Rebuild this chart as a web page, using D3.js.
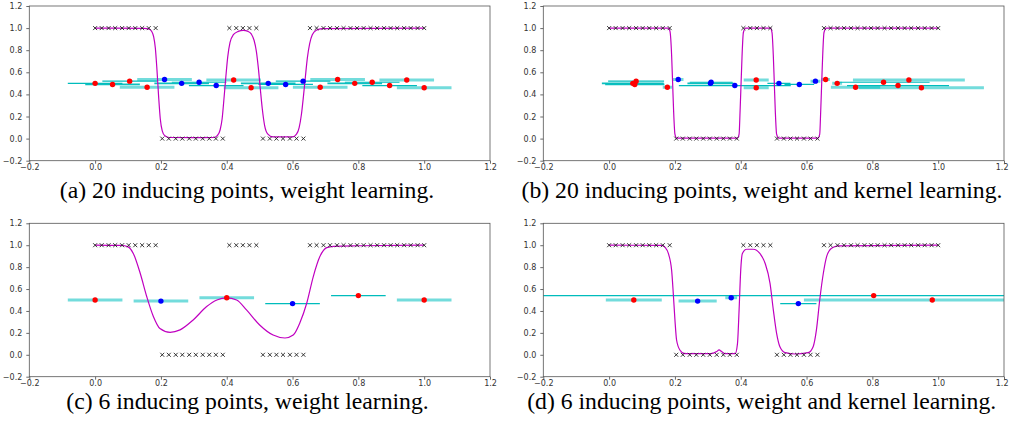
<!DOCTYPE html>
<html>
<head>
<meta charset="utf-8">
<script src="https://cdn.jsdelivr.net/npm/d3@7"></script>
<style>
	body { margin: 0; background: #fff; }
</style>
</head>
<body>
<svg id="fig" width="1009" height="421"></svg>
<script>
// training data, same in all four panels
var trainX = [0.000, 0.020, 0.041, 0.061, 0.082, 0.102, 0.122, 0.143, 0.163, 0.184,
	0.204, 0.224, 0.245, 0.265, 0.286, 0.306, 0.327, 0.347, 0.367, 0.388,
	0.408, 0.429, 0.449, 0.469, 0.490, 0.510, 0.531, 0.551, 0.571, 0.592,
	0.612, 0.633, 0.653, 0.673, 0.694, 0.714, 0.735, 0.755, 0.776, 0.796,
	0.816, 0.837, 0.857, 0.878, 0.898, 0.918, 0.939, 0.959, 0.980, 1.000];
var trainY = [1, 1, 1, 1, 1, 1, 1, 1, 1, 1,
	0, 0, 0, 0, 0, 0, 0, 0, 0, 0,
	1, 1, 1, 1, 1,
	0, 0, 0, 0, 0, 0, 0,
	1, 1, 1, 1, 1, 1, 1, 1, 1, 1, 1, 1, 1, 1, 1, 1, 1, 1];

var tickValues = [-0.2, 0.0, 0.2, 0.4, 0.6, 0.8, 1.0, 1.2];

// (a) 20 inducing points, weight learning
var meanAX = [0, 0.15, 0.165, 0.172, 0.178, 0.183, 0.188, 0.193, 0.198, 0.204, 0.212, 0.225, 0.30, 0.36,
	0.372, 0.38, 0.386, 0.391, 0.397, 0.403, 0.41, 0.42, 0.435, 0.45, 0.465, 0.475, 0.483, 0.49,
	0.496, 0.502, 0.508, 0.515, 0.525, 0.54, 0.60, 0.612, 0.62, 0.627, 0.633, 0.639, 0.645, 0.652,
	0.66, 0.672, 0.69, 1.0];
var meanAY = [1.0, 0.998, 0.99, 0.97, 0.92, 0.82, 0.62, 0.38, 0.18, 0.07, 0.025, 0.01, 0.008, 0.01,
	0.03, 0.08, 0.18, 0.34, 0.55, 0.74, 0.87, 0.94, 0.97, 0.98, 0.97, 0.945, 0.89, 0.79,
	0.64, 0.45, 0.27, 0.12, 0.04, 0.015, 0.015, 0.04, 0.1, 0.22, 0.38, 0.56, 0.73, 0.86,
	0.94, 0.98, 0.995, 1.0];
var indAX = [0.000, 0.053, 0.105, 0.158, 0.211, 0.263, 0.316, 0.368, 0.421, 0.474,
	0.526, 0.579, 0.632, 0.684, 0.737, 0.789, 0.842, 0.895, 0.947, 1.000];
var indAY = [0.50, 0.49, 0.52, 0.465, 0.535, 0.50, 0.51, 0.48, 0.53, 0.46,
	0.50, 0.49, 0.52, 0.465, 0.535, 0.50, 0.51, 0.48, 0.53, 0.46];
var indASign = ["r", "r", "r", "r", "b", "b", "b", "b", "r", "r",
	"b", "b", "b", "r", "r", "r", "r", "r", "r", "r"];
var indAHalf = [0.083, 0.083, 0.083, 0.083, 0.083, 0.083, 0.083, 0.083, 0.083, 0.083,
	0.083, 0.083, 0.083, 0.083, 0.083, 0.083, 0.083, 0.083, 0.083, 0.083];
var indAKind = ["d", "D", "d", "L", "L", "D", "d", "d", "L", "L",
	"D", "d", "d", "L", "L", "D", "d", "d", "L", "L"];

// (b) 20 inducing points, weight and kernel learning
var meanBX = [0, 0.18, 0.185, 0.19, 0.193, 0.196, 0.2, 0.205, 0.39, 0.395, 0.398, 0.401, 0.404, 0.408,
	0.415, 0.49, 0.495, 0.499, 0.502, 0.505, 0.509, 0.515, 0.635, 0.64, 0.643, 0.646, 0.649, 0.653,
	0.66, 1.0];
var meanBY = [1.0, 1.0, 0.97, 0.75, 0.5, 0.25, 0.04, 0.005, 0.005, 0.04, 0.25, 0.5, 0.75, 0.96,
	1.0, 1.0, 0.96, 0.75, 0.5, 0.25, 0.04, 0.005, 0.005, 0.04, 0.25, 0.5, 0.75, 0.96,
	1.0, 1.0];
var indBX = [0.072, 0.078, 0.082, 0.177, 0.210, 0.308, 0.310, 0.382, 0.447, 0.447,
	0.516, 0.578, 0.627, 0.749, 0.658, 0.693, 0.834, 0.878, 0.911, 0.949];
var indBY = [0.50, 0.49, 0.52, 0.465, 0.535, 0.50, 0.51, 0.48, 0.53, 0.46,
	0.50, 0.49, 0.52, 0.465, 0.535, 0.50, 0.51, 0.48, 0.53, 0.46];
var indBSign = ["r", "r", "r", "r", "b", "b", "b", "b", "r", "r",
	"b", "b", "b", "r", "r", "r", "r", "r", "r", "r"];
var indBHalf = [0.094, 0.09, 0.085, 0.014, 0.016, 0.07, 0.065, 0.17, 0.038, 0.038,
	0.035, 0.045, 0.015, 0.075, 0.013, 0.015, 0.14, 0.155, 0.17, 0.19];
var indBKind = ["D", "D", "d", "L", "L", "D", "d", "d", "L", "L",
	"d", "d", "L", "L", "L", "L", "d", "d", "L", "L"];

// (c) 6 inducing points, weight learning
var meanCX = [0, 0.08, 0.1, 0.116, 0.137, 0.157, 0.177, 0.197, 0.228, 0.258, 0.298, 0.339, 0.37, 0.4,
	0.43, 0.46, 0.50, 0.541, 0.577, 0.602, 0.622, 0.643, 0.663, 0.683, 0.704, 0.724, 0.8, 1.0];
var meanCY = [1.0, 0.998, 0.985, 0.925, 0.744, 0.53, 0.35, 0.24, 0.205, 0.227, 0.318, 0.44, 0.5, 0.52,
	0.5, 0.41, 0.272, 0.18, 0.153, 0.18, 0.29, 0.47, 0.714, 0.896, 0.978, 0.99, 0.995, 1.0];
var indCX = [0.0, 0.2, 0.4, 0.6, 0.8, 1.0];
var indCY = [0.50, 0.49, 0.52, 0.467, 0.54, 0.50];
var indCSign = ["r", "b", "r", "b", "r", "r"];
var indCHalf = [0.083, 0.083, 0.083, 0.083, 0.083, 0.083];
var indCKind = ["L", "L", "L", "d", "d", "L"];

// (d) 6 inducing points, weight and kernel learning
var meanDX = [0, 0.16, 0.17, 0.18, 0.19, 0.195, 0.2, 0.205, 0.215, 0.23, 0.31, 0.327, 0.334, 0.342,
	0.352, 0.383, 0.39, 0.395, 0.4, 0.405, 0.418, 0.438, 0.458, 0.474, 0.489, 0.499, 0.509, 0.519,
	0.535, 0.565, 0.605, 0.62, 0.63, 0.64, 0.651, 0.661, 0.676, 0.697, 1.0];
var meanDY = [1.0, 0.998, 0.98, 0.925, 0.77, 0.56, 0.32, 0.135, 0.044, 0.01, 0.01, 0.03, 0.044, 0.03,
	0.01, 0.01, 0.1, 0.41, 0.775, 0.925, 0.963, 0.963, 0.925, 0.835, 0.652, 0.41, 0.196, 0.074,
	0.02, 0.007, 0.02, 0.074, 0.227, 0.5, 0.744, 0.896, 0.972, 0.994, 1.0];
var indDX = [0.075, 0.269, 0.371, 0.575, 0.804, 0.982];
var indDY = [0.50, 0.49, 0.52, 0.467, 0.54, 0.50];
var indDSign = ["r", "b", "b", "b", "r", "r"];
var indDHalf = [0.085, 0.058, 0.018, 0.055, 2.0, 0.39];
var indDKind = ["L", "L", "L", "d", "d", "L"];

var dotColors = {r: "#ff0000", b: "#0000ff"};
var barStyles = {
	L: {color: "#00bfbf", width: 3, opacity: 0.55},
	D: {color: "#00bcbc", width: 1.8, opacity: 0.95},
	d: {color: "#00bcbc", width: 1.2, opacity: 1}
};

function zipInducing(xs, ys, signs, halfs, kinds) {
	var out = [];
	for (var i = 0; i < xs.length; i++)
		out.push({x: xs[i], y: ys[i], sign: signs[i], half: halfs[i], kind: kinds[i]});
	return out;
}

function Panel(parent, id, box, caption) {
	this.parent = parent;
	this.id = id;
	this.box = box;
	this.caption = caption;

	this.x = d3.scaleLinear().domain([-0.2, 1.2]).range([box.left, box.right]);
	this.y = d3.scaleLinear().domain([-0.2, 1.2]).range([box.bottom, box.top]);

	this.item = parent.append("g").attr("id", id);
	this.item.append("clipPath").attr("id", id + "-clip")
		.append("rect")
		.attr("x", box.left).attr("y", box.top)
		.attr("width", box.right - box.left).attr("height", box.bottom - box.top);
	this.plot = this.item.append("g").attr("clip-path", "url(#" + id + "-clip)");
}

Panel.prototype.drawAxes = function() {
	var fmt = d3.format(".1f");
	var gx = this.item.append("g")
		.attr("transform", "translate(0," + this.box.bottom + ")")
		.call(d3.axisBottom(this.x).tickValues(tickValues).tickFormat(fmt).tickSize(3).tickPadding(0.5));
	var gy = this.item.append("g")
		.attr("transform", "translate(" + this.box.left + ",0)")
		.call(d3.axisLeft(this.y).tickValues(tickValues).tickFormat(fmt).tickSize(3).tickPadding(4));
	[gx, gy].forEach(function(g) {
		g.select(".domain").remove();
		g.selectAll("line").attr("stroke", "#444").attr("stroke-width", 0.8);
		g.selectAll("text")
			.style("font-family", "'DejaVu Sans', sans-serif")
			.style("font-size", "8px")
			.attr("fill", "#333");
	});
	// the right hand panels run up to the page edge, keep the last label inside
	if (this.box.right > 1000)
		gx.selectAll(".tick:last-of-type text").attr("text-anchor", "end").attr("dx", 4);
	this.item.append("rect")
		.attr("x", this.box.left).attr("y", this.box.top)
		.attr("width", this.box.right - this.box.left)
		.attr("height", this.box.bottom - this.box.top)
		.attr("fill", "none").attr("stroke", "#555").attr("stroke-width", 0.8);
};

Panel.prototype.drawBars = function(ind) {
	var x = this.x, y = this.y;
	this.plot.append("g").selectAll("line").data(ind).join("line")
		.attr("x1", function(d) { return x(d.x - d.half); })
		.attr("x2", function(d) { return x(d.x + d.half); })
		.attr("y1", function(d) { return y(d.y); })
		.attr("y2", function(d) { return y(d.y); })
		.attr("stroke", function(d) { return barStyles[d.kind].color; })
		.attr("stroke-width", function(d) { return barStyles[d.kind].width; })
		.attr("stroke-opacity", function(d) { return barStyles[d.kind].opacity; });
};

Panel.prototype.drawMean = function(mx, my) {
	var x = this.x, y = this.y;
	var pts = mx.map(function(v, i) { return [v, my[i]]; });
	var line = d3.line()
		.x(function(d) { return x(d[0]); })
		.y(function(d) { return y(d[1]); })
		.curve(d3.curveMonotoneX);
	this.plot.append("path").attr("d", line(pts))
		.attr("fill", "none").attr("stroke", "#c000c0").attr("stroke-width", 1.2);
};

Panel.prototype.drawData = function() {
	var x = this.x, y = this.y;
	var sym = d3.symbol(d3.symbolX, 12);
	this.plot.append("g").selectAll("path").data(trainX).join("path")
		.attr("d", sym)
		.attr("transform", function(d, i) { return "translate(" + x(d) + "," + y(trainY[i]) + ")"; })
		.attr("fill", "none").attr("stroke", "#222").attr("stroke-width", 0.9);
};

Panel.prototype.drawDots = function(ind) {
	var x = this.x, y = this.y;
	this.plot.append("g").selectAll("circle").data(ind).join("circle")
		.attr("cx", function(d) { return x(d.x); })
		.attr("cy", function(d) { return y(d.y); })
		.attr("r", 2.7)
		.attr("fill", function(d) { return dotColors[d.sign]; });
};

Panel.prototype.drawCaption = function() {
	this.item.append("text")
		.attr("x", this.caption.x).attr("y", this.caption.y)
		.attr("text-anchor", "middle")
		.style("font-family", "'Liberation Serif', 'Times New Roman', serif")
		.style("font-size", "23.7px")
		.attr("fill", "#000")
		.text(this.caption.text);
};

Panel.prototype.draw = function(mx, my, ind) {
	this.drawBars(ind);
	this.drawMean(mx, my);
	this.drawData();
	this.drawDots(ind);
	this.drawAxes();
	this.drawCaption();
};

var svg = d3.select("#fig");

var panelA = new Panel(svg, "pa", {left: 29.3, right: 490, top: 6, bottom: 160.7},
	{x: 247, y: 198, text: "(a) 20 inducing points, weight learning."});
panelA.draw(meanAX, meanAY, zipInducing(indAX, indAY, indASign, indAHalf, indAKind));

var panelB = new Panel(svg, "pb", {left: 543.3, right: 1004, top: 6, bottom: 160.7},
	{x: 762, y: 198, text: "(b) 20 inducing points, weight and kernel learning."});
panelB.draw(meanBX, meanBY, zipInducing(indBX, indBY, indBSign, indBHalf, indBKind));

var panelC = new Panel(svg, "pc", {left: 29.3, right: 490, top: 223.3, bottom: 376.7},
	{x: 247.5, y: 409, text: "(c) 6 inducing points, weight learning."});
panelC.draw(meanCX, meanCY, zipInducing(indCX, indCY, indCSign, indCHalf, indCKind));

var panelD = new Panel(svg, "pd", {left: 543.3, right: 1004, top: 223.3, bottom: 376.7},
	{x: 761.7, y: 409, text: "(d) 6 inducing points, weight and kernel learning."});
panelD.draw(meanDX, meanDY, zipInducing(indDX, indDY, indDSign, indDHalf, indDKind));
</script>
</body>
</html>
